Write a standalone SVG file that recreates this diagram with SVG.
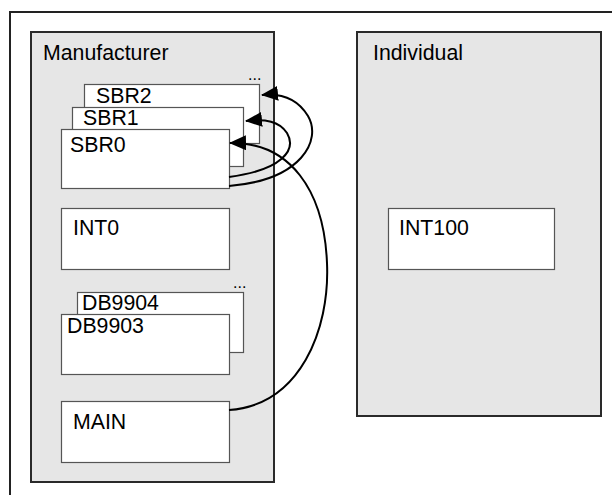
<svg xmlns="http://www.w3.org/2000/svg" width="612" height="495" viewBox="0 0 612 495">
<defs>
<style>
.panel{fill:#e6e6e6;stroke:#2a2a2a;stroke-width:2}
.box{fill:#ffffff;stroke:#555555;stroke-width:1.2}
.t{font-family:"Liberation Sans",Arial,sans-serif;font-size:21.3px;fill:#000}
.dots{font-family:"Liberation Sans",Arial,sans-serif;font-size:16px;fill:#000}
.c{fill:none;stroke:#000;stroke-width:2}
</style>
<marker id="ah" markerWidth="17" markerHeight="15" refX="16" refY="7.5" orient="auto" markerUnits="userSpaceOnUse">
<path d="M0,0 L17,7.5 L0,15 Z" fill="#000"/>
</marker>
</defs>
<rect width="612" height="495" fill="#ffffff"/>
<path d="M10,495 V12 H612" fill="none" stroke="#222" stroke-width="2"/>
<g id="manufacturer">
<rect class="panel" x="31" y="32" width="243" height="450"/>
<text class="t" x="43" y="60">Manufacturer</text>
</g>
<g id="individual">
<rect class="panel" x="357" y="32" width="244" height="384"/>
<text class="t" x="373" y="60">Individual</text>
</g>
<g id="sbr2">
<rect class="box" x="84.5" y="84.5" width="175" height="59"/>
<text class="t" x="96" y="103">SBR2</text>
<text class="dots" x="248" y="80">...</text>
</g>
<g id="sbr1">
<rect class="box" x="72.5" y="107.5" width="171" height="59"/>
<text class="t" x="83" y="125">SBR1</text>
</g>
<g id="sbr0">
<rect class="box" x="61.5" y="129.5" width="168" height="59"/>
<text class="t" x="70" y="152">SBR0</text>
</g>
<g id="int0">
<rect class="box" x="61.5" y="208.5" width="168" height="61"/>
<text class="t" x="73" y="235">INT0</text>
</g>
<g id="db9904">
<rect class="box" x="77.5" y="292.5" width="166" height="60"/>
<text class="t" x="82" y="310">DB9904</text>
<text class="dots" x="233" y="288">...</text>
</g>
<g id="db9903">
<rect class="box" x="61.5" y="314.5" width="168" height="60"/>
<text class="t" x="67" y="333">DB9903</text>
</g>
<g id="main">
<rect class="box" x="61.5" y="401.5" width="168" height="61"/>
<text class="t" x="73" y="429">MAIN</text>
</g>
<g id="int100">
<rect class="box" x="388.5" y="208.5" width="166" height="61"/>
<text class="t" x="399" y="235">INT100</text>
</g>
<g id="connectors">
<path class="c" d="M229,186 C302,180 322,140 308,116 C298,99 282,93 262,95" marker-end="url(#ah)"/>
<path class="c" d="M229,177 C282,170 297,150 287,133 C279,121 266,119 246,121" marker-end="url(#ah)"/>
<path class="c" d="M229,410 C300,405 330,330 327,263 C324,190 290,142 230,143" marker-end="url(#ah)"/>
</g>
</svg>
